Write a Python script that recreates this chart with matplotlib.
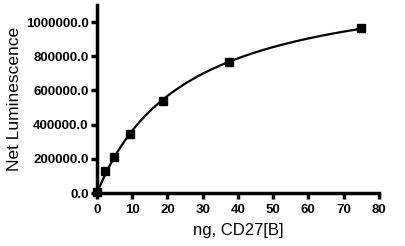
import numpy as np
import matplotlib
matplotlib.use("Agg")
import matplotlib.pyplot as plt

# data
ng_cd27 = [0.0, 2.34, 4.69, 9.38, 18.75, 37.5, 75.0]
net_lum = [5000, 130000, 210000, 345000, 538000, 766000, 965000]

x_ticks = [0, 10, 20, 30, 40, 50, 60, 70, 80]
y_ticks = [0, 200000, 400000, 600000, 800000, 1000000]
y_tick_labels = ["0.0", "200000.0", "400000.0", "600000.0", "800000.0", "1000000.0"]

plt.rcParams['font.family'] = ['Liberation Sans', 'DejaVu Sans']


def fit_one_site(x, y):
    # one-site binding y = Bmax*x/(Kd+x); grid over Kd, closed-form Bmax
    x = np.asarray(x, float)
    y = np.asarray(y, float)
    best = None
    for kd in np.linspace(1, 100, 2000):
        f = x / (kd + x)
        bmax = (f @ y) / (f @ f)
        err = np.sum((y - bmax * f) ** 2)
        if best is None or err < best[0]:
            best = (err, bmax, kd)
    return best[1], best[2]


bmax, kd = fit_one_site(ng_cd27, net_lum)
xs = np.linspace(0, max(ng_cd27), 300)

fig = plt.figure(figsize=(4.06, 2.46), dpi=100)
ax = fig.add_axes([0.239, 0.215, 0.694, 0.765])
ax.plot(xs, bmax * xs / (kd + xs), color='black', lw=1.6, zorder=2)
ax.plot(ng_cd27, net_lum, 's', color='black', ms=5.5, zorder=3, clip_on=False)

ax.set_xlim(0, 80)
ax.set_ylim(0, 1100000)
ax.set_xticks(x_ticks)
ax.set_yticks(y_ticks)
ax.set_yticklabels(y_tick_labels)
for s in ['top', 'right']:
    ax.spines[s].set_visible(False)
for s in ['left', 'bottom']:
    ax.spines[s].set_linewidth(2.5)
ax.tick_params(width=2.5, length=4, labelsize=9.5, pad=2)
ax.tick_params(axis='x', pad=4)
for lab in ax.get_xticklabels() + ax.get_yticklabels():
    lab.set_fontweight('bold')
ax.set_xlabel('ng, CD27[B]', fontsize=12, labelpad=5)
ax.set_ylabel('Net Luminescence', fontsize=12.5, labelpad=3)

fig.savefig('out.png', dpi=100)
